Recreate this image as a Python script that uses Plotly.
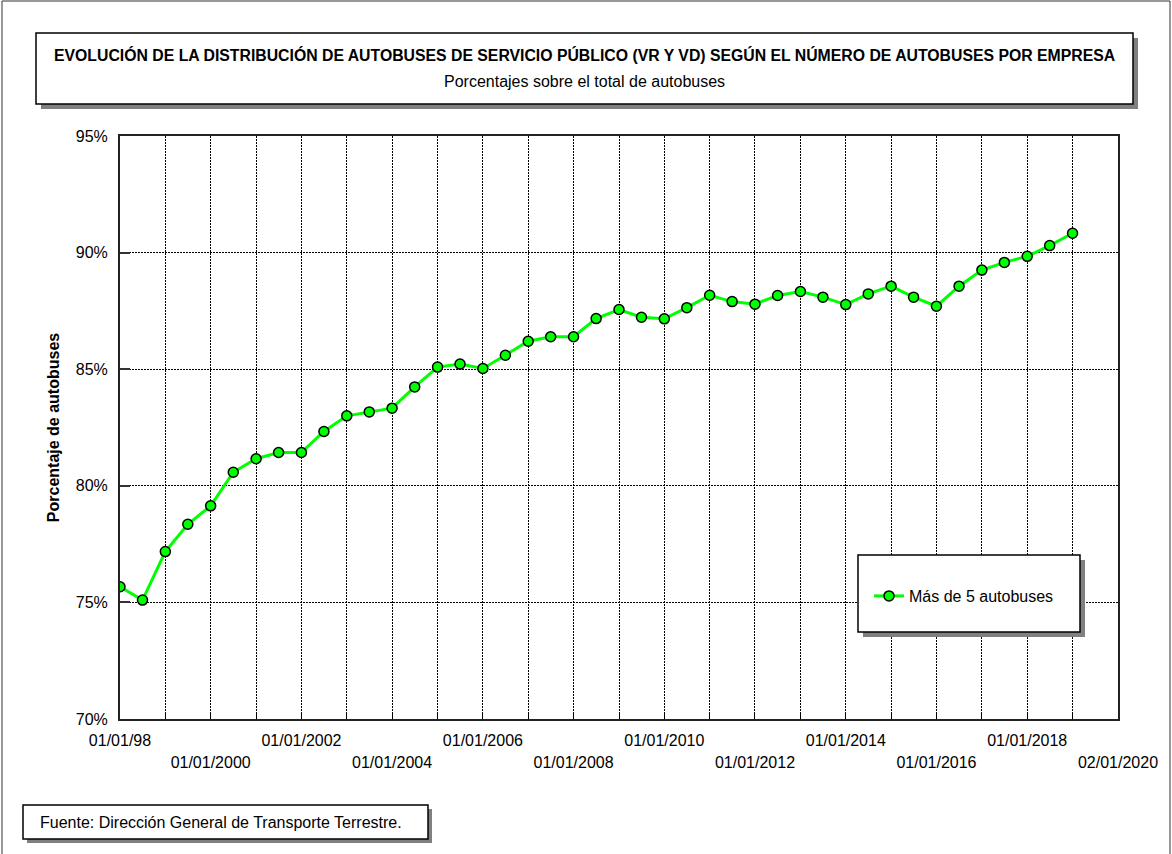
"""
Evolución de la distribución de autobuses de servicio público (VR y VD).
"""

import pandas as pd
import plotly.graph_objects as go


# Datos semestrales (porcentaje de autobuses en empresas con más de 5 autobuses)
fechas = pd.date_range("1998-01-01", "2019-01-01", freq="6MS")
porcentajes = [
    75.67, 75.10, 77.18, 78.35, 79.14, 80.58, 81.16, 81.43, 81.43, 82.33,
    83.00, 83.17, 83.33, 84.24, 85.09, 85.22, 85.03, 85.60, 86.20, 86.39,
    86.39, 87.17, 87.56, 87.23, 87.16, 87.64, 88.17, 87.90, 87.79, 88.16,
    88.33, 88.09, 87.77, 88.23, 88.56, 88.09, 87.70, 88.56, 89.25, 89.58,
    89.84, 90.30, 90.83,
]
nombre_serie = "Más de 5 autobuses"

# Ejes
rango_x = ["1998-01-01", "2020-01-02"]
ticks_anuales = [f"{a}-01-01" for a in range(1998, 2020)] + ["2020-01-02"]
ticks_arriba = ["1998-01-01", "2002-01-01", "2006-01-01", "2010-01-01",
                "2014-01-01", "2018-01-01"]
etiquetas_arriba = ["01/01/98", "01/01/2002", "01/01/2006", "01/01/2010",
                    "01/01/2014", "01/01/2018"]
ticks_abajo = ["2000-01-01", "2004-01-01", "2008-01-01", "2012-01-01",
               "2016-01-01", "2020-01-02"]
etiquetas_abajo = ["01/01/2000", "01/01/2004", "01/01/2008", "01/01/2012",
                   "01/01/2016", "02/01/2020"]
ticks_y = [70, 75, 80, 85, 90, 95]
etiquetas_y = ["70%", "75%", "80%", "85%", "90%", "95%"]

TITULO = ("EVOLUCIÓN DE LA DISTRIBUCIÓN DE AUTOBUSES DE SERVICIO PÚBLICO "
          "(VR Y VD) SEGÚN EL NÚMERO DE AUTOBUSES POR EMPRESA")
SUBTITULO = "Porcentajes sobre el total de autobuses"
FUENTE = "Fuente: Dirección General de Transporte Terrestre."

FUENTE_TXT = "Liberation Sans, Arial, sans-serif"
ANCHO, ALTO = 1172, 854
# área de trazado en píxeles
L, R, T, B = 120, 1118, 136, 719


def px_x(x):
    return (x - L) / (R - L)


def px_y(y):
    return (B - y) / (B - T)


def caja(x0, y0, x1, y1, sombra=5):
    """Rectángulo blanco con borde negro y sombra gris."""
    return [
        dict(type="rect", xref="paper", yref="paper", layer="above",
             x0=px_x(x0 + sombra), x1=px_x(x1 + sombra),
             y0=px_y(y0 + sombra), y1=px_y(y1 + sombra),
             fillcolor="#808080", line=dict(width=0)),
        dict(type="rect", xref="paper", yref="paper", layer="above",
             x0=px_x(x0), x1=px_x(x1), y0=px_y(y0), y1=px_y(y1),
             fillcolor="white", line=dict(color="black", width=1.5)),
    ]


texto_arriba = dict(zip(ticks_arriba, etiquetas_arriba))

fig = go.Figure()
fig.add_trace(go.Scatter(
    x=fechas,
    y=porcentajes,
    mode="lines+markers",
    name=nombre_serie,
    line=dict(color="#00FF00", width=3),
    marker=dict(symbol="circle", size=10, color="#00FF00",
                line=dict(color="black", width=1.5)),
))
# traza invisible para la segunda fila de etiquetas del eje X
fig.add_trace(go.Scatter(
    x=fechas, y=porcentajes, xaxis="x2", mode="lines",
    line=dict(color="rgba(0,0,0,0)"), showlegend=False, hoverinfo="skip",
))

formas = [
    # borde exterior
    dict(type="rect", xref="paper", yref="paper", layer="below",
         x0=px_x(2), x1=px_x(ANCHO - 2), y0=px_y(1), y1=px_y(ALTO + 20),
         line=dict(color="#333333", width=1)),
]
formas += caja(36, 33, 1133, 104)
formas += caja(858, 555, 1080, 632)
formas += caja(23, 805, 428, 839, sombra=4)

fig.update_layout(
    width=ANCHO,
    height=ALTO,
    paper_bgcolor="white",
    plot_bgcolor="white",
    font=dict(family=FUENTE_TXT, color="black", size=16),
    margin=dict(l=L, r=ANCHO - R, t=T, b=ALTO - B),
    shapes=formas,
    showlegend=True,
    legend=dict(
        x=px_x(869), y=px_y(596), xanchor="left", yanchor="middle",
        bgcolor="rgba(0,0,0,0)", borderwidth=0,
        font=dict(size=16, family=FUENTE_TXT),
    ),
    xaxis=dict(
        type="date",
        range=rango_x,
        tickvals=ticks_anuales,
        ticktext=[texto_arriba.get(t, "") for t in ticks_anuales],
        ticks="inside", ticklen=7, tickcolor="black", tickwidth=1,
        ticklabelstandoff=6,
        showgrid=True, gridcolor="black", gridwidth=1, griddash="2px,1px",
        showline=True, linecolor="#222222", linewidth=2, mirror=True,
        zeroline=False,
        tickfont=dict(size=16),
    ),
    xaxis2=dict(
        type="date",
        range=rango_x,
        overlaying="x",
        side="bottom",
        anchor="y",
        tickvals=ticks_abajo,
        ticktext=etiquetas_abajo,
        ticks="",
        ticklabelstandoff=32,
        showgrid=False, showline=False, zeroline=False,
        tickfont=dict(size=16),
    ),
    yaxis=dict(
        range=[70, 95],
        tickvals=ticks_y,
        ticktext=etiquetas_y,
        ticks="inside", ticklen=10, tickcolor="#333333", tickwidth=2,
        ticklabelstandoff=7,
        showgrid=True, gridcolor="black", gridwidth=1, griddash="2px,1px",
        showline=True, linecolor="#222222", linewidth=2, mirror=True,
        zeroline=False,
        title=dict(text="<b>Porcentaje de autobuses</b>", standoff=12,
                   font=dict(size=16)),
        tickfont=dict(size=16),
    ),
    annotations=[
        dict(text=f"<b>{TITULO}</b>", xref="paper", yref="paper",
             x=px_x(584), y=px_y(55), showarrow=False,
             xanchor="center", yanchor="middle", font=dict(size=15.8)),
        dict(text=SUBTITULO, xref="paper", yref="paper",
             x=px_x(584), y=px_y(82), showarrow=False,
             xanchor="center", yanchor="middle", font=dict(size=16)),
        dict(text=FUENTE, xref="paper", yref="paper",
             x=px_x(38), y=px_y(822), showarrow=False,
             xanchor="left", yanchor="middle", font=dict(size=16)),
    ],
)

# sin margen en la página para que la figura empiece en (0, 0)
fig.write_html(
    "out.html",
    config={"displayModeBar": False},
    post_script="document.body.style.margin='0';",
)
